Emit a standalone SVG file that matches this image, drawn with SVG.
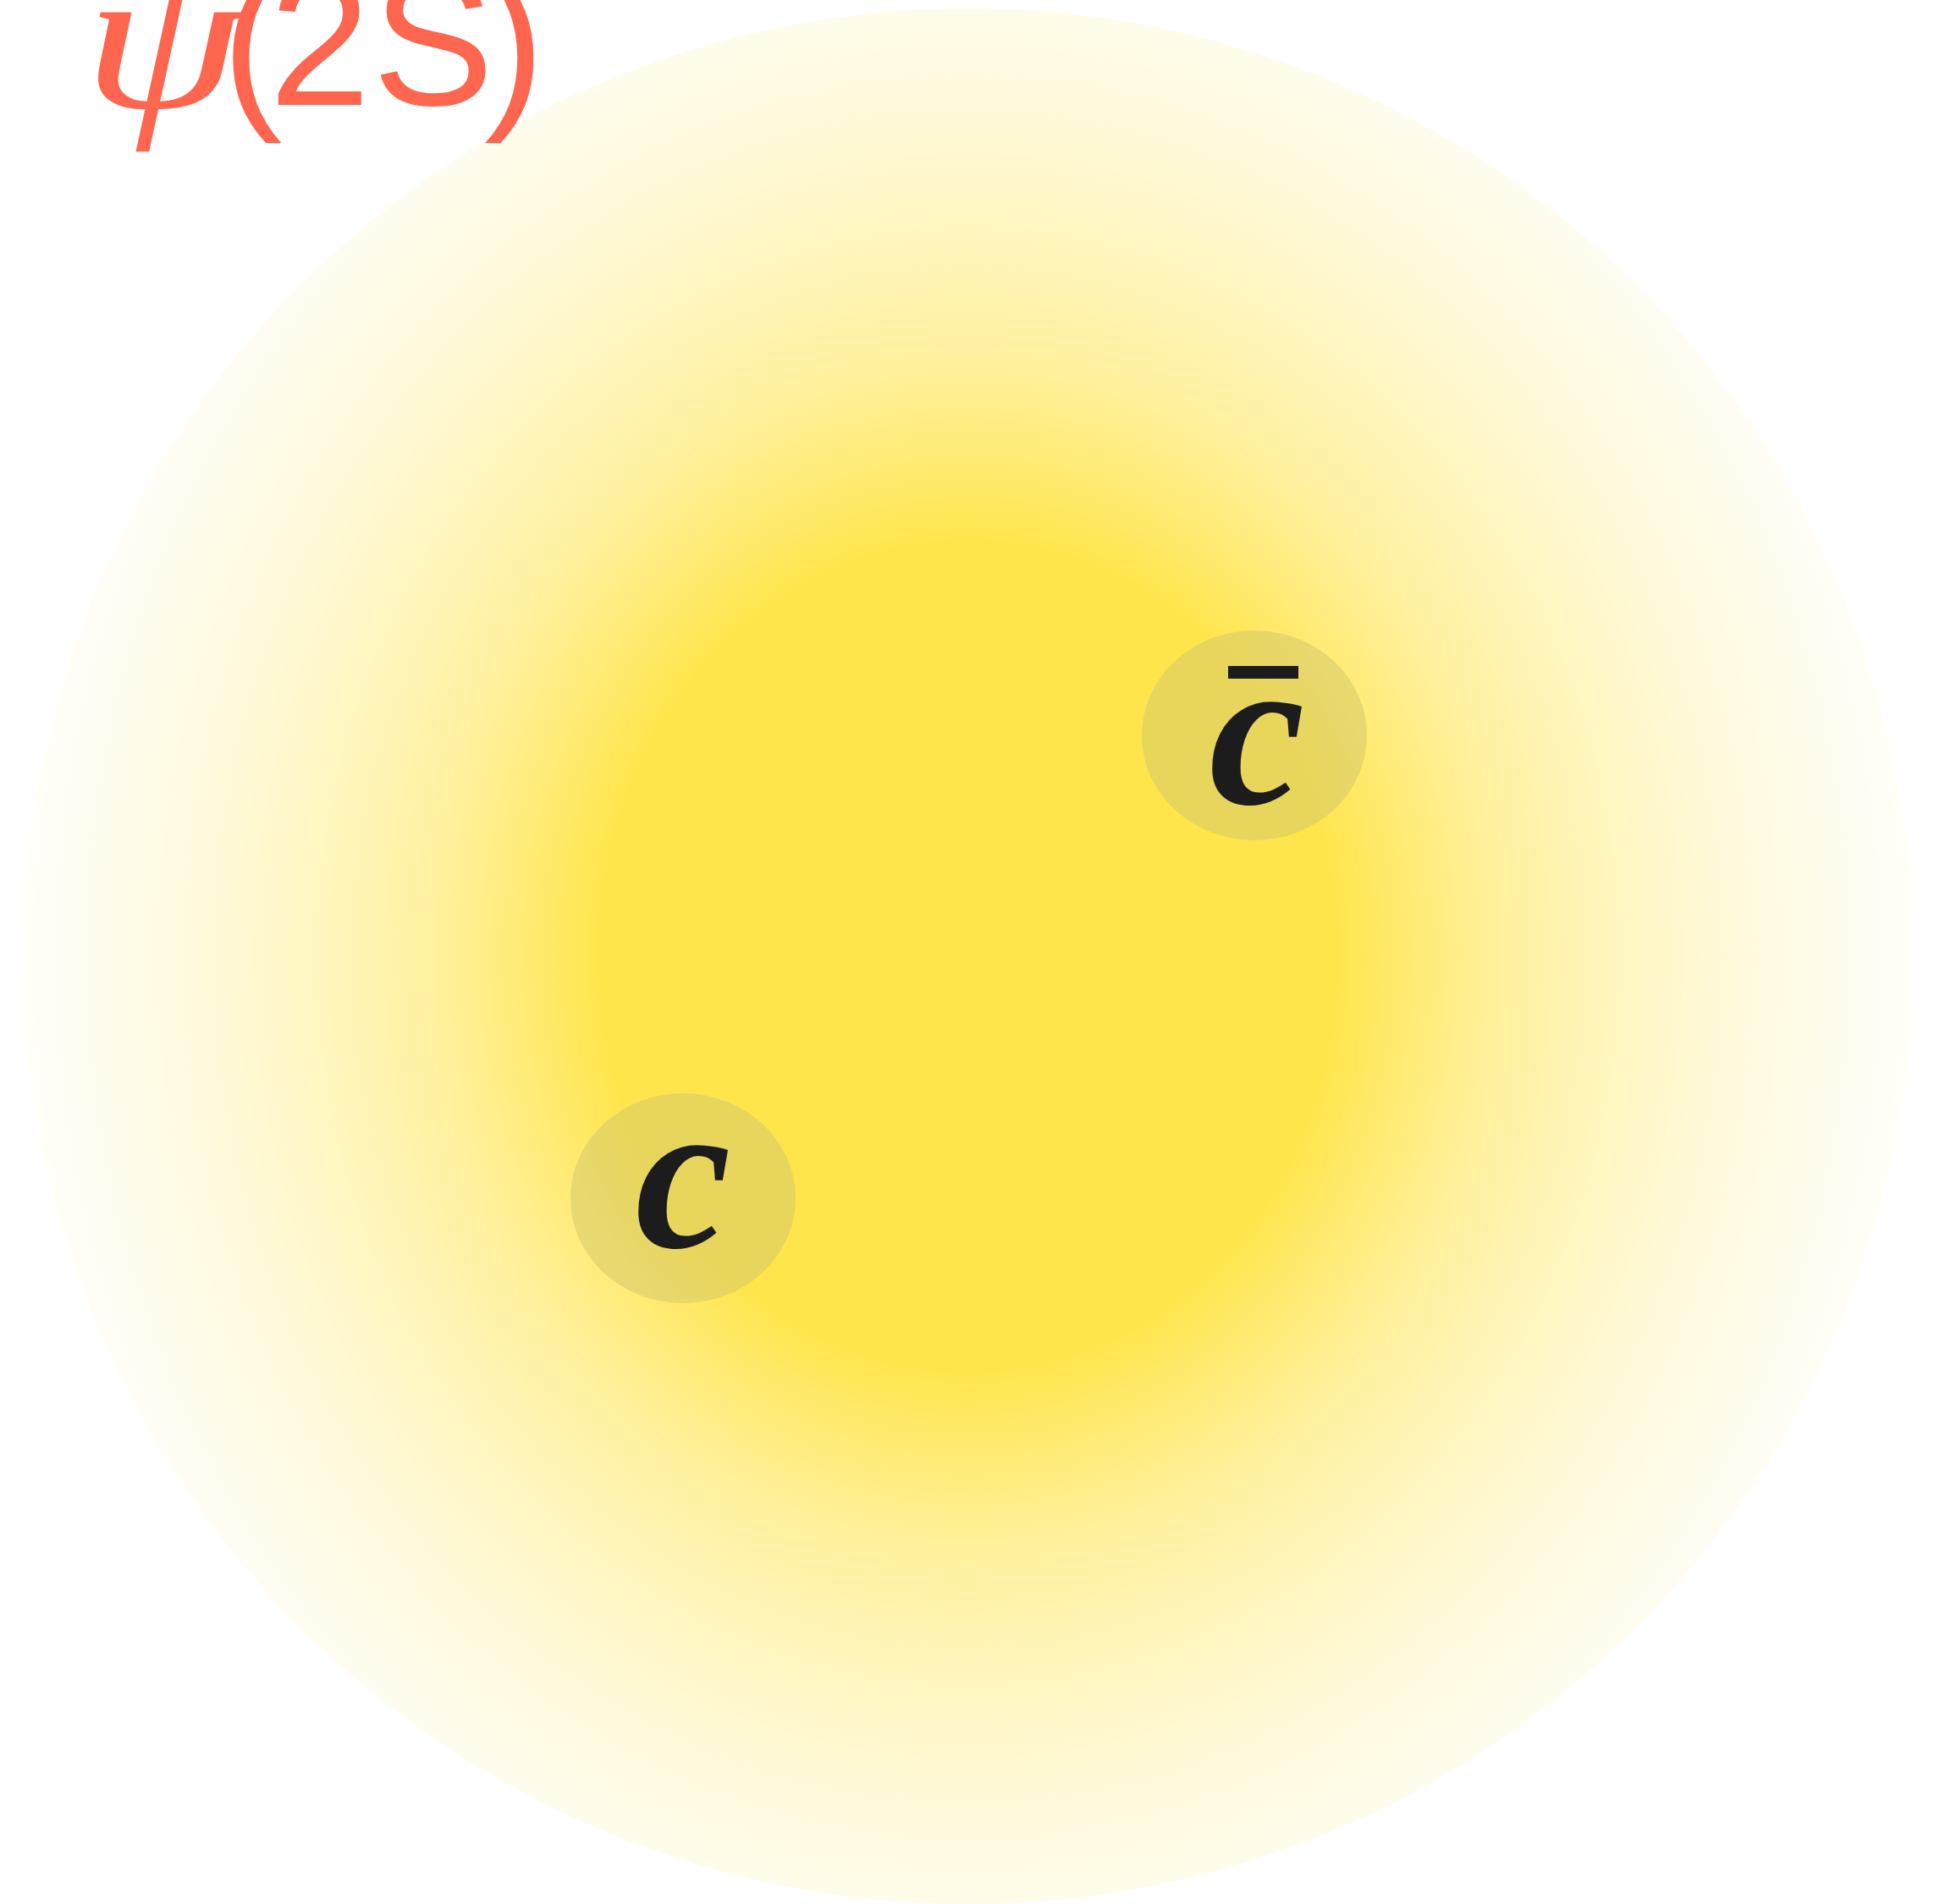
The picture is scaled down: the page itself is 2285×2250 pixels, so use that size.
<svg xmlns="http://www.w3.org/2000/svg" width="2285" height="2250" viewBox="0 0 2285 2250">
  <style>
    .quark { fill: #D2C56A; fill-opacity: 0.5; }
    .qlabel { font-family: "Liberation Serif", "DejaVu Serif", serif; font-style: italic; font-weight: bold; font-size: 255px; fill: #1C1C1C; }
    .title { fill: #FF6650; }
  </style>
  <defs>
    <radialGradient id="glow" gradientUnits="userSpaceOnUse" cx="0" cy="0" r="1" gradientTransform="translate(1144 1130) scale(1150 1290)">
      <stop offset="0" stop-color="#FFE54C" stop-opacity="1"/>
      <stop offset="0.38" stop-color="#FFE54C" stop-opacity="1"/>
      <stop offset="0.44" stop-color="#FFE54C" stop-opacity="0.82"/>
      <stop offset="0.54" stop-color="#FFE54C" stop-opacity="0.56"/>
      <stop offset="0.63" stop-color="#FFE54C" stop-opacity="0.41"/>
      <stop offset="0.76" stop-color="#FFE54C" stop-opacity="0.23"/>
      <stop offset="0.885" stop-color="#FFE54C" stop-opacity="0.1"/>
      <stop offset="1" stop-color="#FFE54C" stop-opacity="0.02"/>
    </radialGradient>
  </defs>
  <rect width="2285" height="2250" fill="#FFFFFF"/>
  <g id="meson">
    <ellipse cx="1144" cy="1130" rx="1118" ry="1120" fill="url(#glow)"/>
  </g>
  <g id="title">
    <text class="title" transform="translate(98 127) scale(1.24 1)" x="0" y="0" font-family="Liberation Serif, DejaVu Serif, serif" font-style="italic" font-size="245">ψ</text>
    <text class="title" y="124" font-family="Liberation Sans, Arial, sans-serif" font-size="215" x="262 318 440 572">(2S)</text>
  </g>
  <g id="quark-cbar">
    <ellipse class="quark" cx="1482" cy="869" rx="133" ry="124"/>
    <rect x="1451" y="787" width="83" height="15" fill="#1C1C1C"/>
    <text class="qlabel" x="1485" y="950" text-anchor="middle">c</text>
  </g>
  <g id="quark-c">
    <ellipse class="quark" cx="807" cy="1416" rx="133" ry="124"/>
    <text class="qlabel" x="807" y="1474" text-anchor="middle">c</text>
  </g>
  <g id="connectors"/>
</svg>
